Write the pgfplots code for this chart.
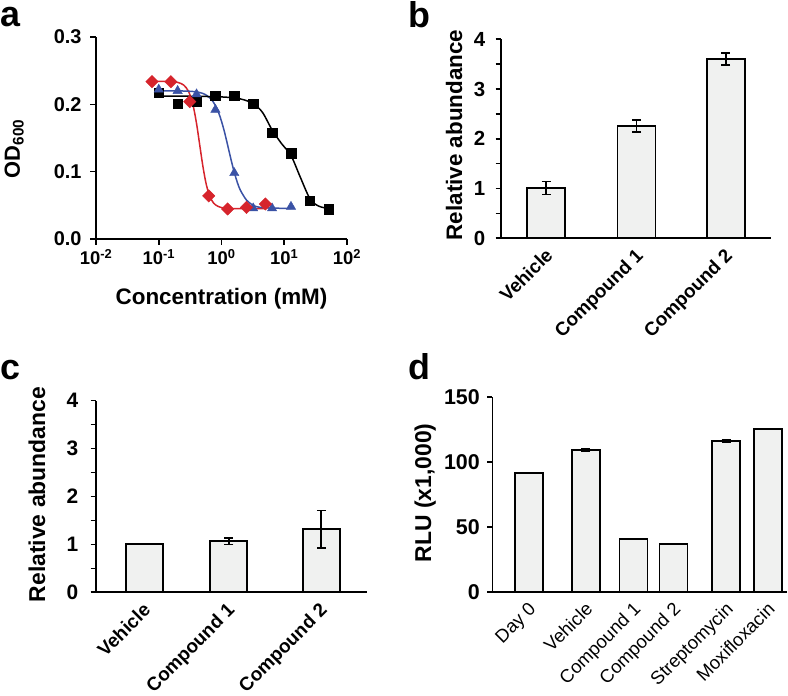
\documentclass[border=0pt]{standalone}
\usepackage{fontspec}
\setmainfont{Liberation Sans}
\usepackage{pgfplots}
\pgfplotsset{compat=1.18}
\definecolor{barfill}{RGB}{240,241,240}
\definecolor{myred}{RGB}{214,36,44}
\definecolor{myblue}{RGB}{58,82,165}
\newcommand{\fs}[1]{\fontsize{#1}{#1}\selectfont}
\pgfplotsset{
  common/.style={
    scale only axis, anchor=south west,
    axis x line*=bottom, axis y line*=left,
    tick align=outside,
    axis line style={line width=1.6bp, black},
    every tick/.style={line width=1.6bp, black},
    /pgf/number format/assume math mode=true,
    clip=false,
  },
  barplot/.style={
    ybar, bar width=#1, fill=barfill, draw=black, line width=1.8bp,
    error bars/.cd, y dir=both, y explicit,
    error bar style={line width=1.7bp, black},
    error mark options={rotate=90, mark size=4.5bp, line width=1.7bp, black},
  },
}
\begin{document}
\begin{tikzpicture}[x=1bp,y=1bp]
\path[use as bounding box] (0,0) rectangle (788,696);
\node[anchor=base west, inner sep=0pt, font=\bfseries\fs{36}] at (0,669) {a};
\node[anchor=base west, inner sep=0pt, font=\bfseries\fs{36}] at (408,668) {b};
\node[anchor=base west, inner sep=0pt, font=\bfseries\fs{36}] at (0,316) {c};
\node[anchor=base west, inner sep=0pt, font=\bfseries\fs{36}] at (408,316) {d};

% ---------------- panel a
\begin{axis}[common,
  width=251bp, height=202bp, at={(96bp,457bp)},
  xmode=log, xmin=1e-2, xmax=1e2, ymin=0, ymax=0.3,
  xminorticks=false,
  major tick length=6bp,
  xtick={0.01,0.1,1,10,100},
  xticklabels={10\textsuperscript{-2},10\textsuperscript{-1},10\textsuperscript{0},10\textsuperscript{1},10\textsuperscript{2}},
  ytick={0,0.1,0.2,0.3}, yticklabels={0.0,0.1,0.2,0.3},
  yticklabel style={font=\bfseries\fs{20}, xshift=-5bp},
  xticklabel style={font=\bfseries\fs{18.5}, yshift=-1bp},
  xlabel={Concentration (mM)}, ylabel={OD\textsubscript{600}},
  every axis x label/.style={at={(axis description cs:0.5,-0.322)}, anchor=base, font=\bfseries\fs{22.5}},
  every axis y label/.style={at={(axis description cs:-0.303,0.446)}, anchor=base, rotate=90, font=\bfseries\fs{22}},
]
\addplot[myred, line width=1.5bp, smooth] coordinates {
 (0.078,0.234) (0.1,0.234) (0.15,0.2337) (0.2,0.2326) (0.25,0.2286) (0.3,0.2187)
 (0.35,0.1998) (0.4,0.1716) (0.45,0.1395) (0.5,0.1106) (0.55,0.0886) (0.6,0.0735)
 (0.7,0.0574) (0.8,0.0508) (1.0,0.0466) (1.5,0.0452) (2,0.0451) (5,0.045)};
\addplot[myblue, line width=1.5bp, smooth] coordinates {
 (0.1,0.220) (0.2,0.2199) (0.3,0.2195) (0.4,0.2184) (0.5,0.2163) (0.6,0.2124)
 (0.7,0.2065) (0.8,0.1982) (0.9,0.1875) (1.0,0.1749) (1.1,0.1611) (1.2,0.1468)
 (1.3,0.133) (1.4,0.1202) (1.5,0.1087) (1.6,0.0987) (1.8,0.0832) (2.0,0.0724)
 (2.5,0.0578) (3.2,0.0500) (4,0.0472) (6.4,0.0458) (12.8,0.0456)};
\addplot[black, line width=1.5bp, smooth] coordinates {
 (0.1,0.212) (0.3,0.212) (1,0.211) (2,0.208) (3.2,0.201) (4.5,0.188) (6.4,0.162)
 (9,0.142) (12.8,0.124) (17.8,0.093) (25.6,0.060) (35,0.049) (51.2,0.045)};
\addplot[only marks, mark=square*, mark size=4.8bp, black] coordinates {
 (0.1,0.217) (0.2,0.201) (0.4,0.204) (0.8,0.213) (1.6,0.213) (3.2,0.201)
 (6.4,0.158) (12.8,0.127) (25.6,0.057) (51.2,0.0446)};
\addplot[only marks, mark=triangle*, mark size=5.4bp, myblue] coordinates {
 (0.1,0.222) (0.2,0.220) (0.4,0.215) (0.8,0.192) (1.6,0.098) (3.2,0.0456)
 (6.4,0.0456) (12.8,0.048)};
\addplot[only marks, mark=square*, mark size=4.4bp, mark options={rotate=45}, myred] coordinates {
 (0.078,0.2336) (0.156,0.2336) (0.3125,0.204) (0.625,0.064) (1.25,0.0446)
 (2.5,0.047) (5,0.052)};
\end{axis}

% ---------------- panel b
\begin{axis}[common,
  width=270bp, height=199bp, at={(500.7bp,457.7bp)},
  xmin=0, xmax=270, ymin=0, ymax=4,
  major tick length=5bp, minor tick length=5bp,
  ytick={0,1,2,3,4}, yticklabels={0,1,2,3,4}, minor ytick={0.5,1.5,2.5,3.5},
  xtick={45.5,135.8,225}, xticklabels={Vehicle,Compound 1,Compound 2},
  x tick style={draw=none},
  yticklabel style={font=\bfseries\fs{20.5}, xshift=-7bp},
  xticklabel style={font=\bfseries\fs{19}, rotate=45, anchor=north east, inner sep=1bp, xshift=-3bp},
  ylabel={Relative abundance},
  every axis y label/.style={at={(axis description cs:-0.143,0.519)}, anchor=base, rotate=90, font=\bfseries\fs{22.5}},
]
\addplot[barplot=38bp] coordinates {
 (45.5,1.01) +- (0,0.13)
 (135.8,2.26) +- (0,0.12)
 (225,3.61) +- (0,0.12)};
\end{axis}

% ---------------- panel c
\begin{axis}[common,
  width=271bp, height=191.6bp, at={(95.7bp,103.7bp)},
  xmin=0, xmax=271, ymin=0, ymax=4,
  major tick length=5bp, minor tick length=5bp,
  ytick={0,1,2,3,4}, yticklabels={0,1,2,3,4}, minor ytick={0.5,1.5,2.5,3.5},
  xtick={49,133.1,225.6}, xticklabels={Vehicle,Compound 1,Compound 2},
  x tick style={draw=none},
  yticklabel style={font=\bfseries\fs{21}, xshift=-9bp},
  xticklabel style={font=\bfseries\fs{19}, rotate=45, anchor=north east, inner sep=1bp, xshift=-4bp},
  ylabel={Relative abundance},
  every axis y label/.style={at={(axis description cs:-0.187,0.51)}, anchor=base, rotate=90, font=\bfseries\fs{23}},
]
\addplot[barplot=37bp] coordinates {
 (49,1.0) +- (0,0)
 (133.1,1.065) +- (0,0.07)
 (225.6,1.32) +- (0,0.39)};
\end{axis}

% ---------------- panel d
\begin{axis}[common,
  width=294.7bp, height=195bp, at={(492.3bp,103.7bp)},
  xmin=0, xmax=294.7, ymin=0, ymax=150,
  major tick length=5bp,
  ytick={0,50,100,150}, yticklabels={0,50,100,150},
  xtick={36.7,93.4,141.2,181.2,233.7,275.5},
  xticklabels={Day 0,Vehicle,Compound 1,Compound 2,Streptomycin,Moxifloxacin},
  x tick style={draw=none},
  yticklabel style={font=\bfseries\fs{21.5}, xshift=-4bp},
  xticklabel style={font=\fs{18.5}, rotate=45, anchor=north east, inner sep=1.5bp, xshift=-2bp},
  ylabel={RLU (x1,000)},
  every axis y label/.style={at={(axis description cs:-0.208,0.51)}, anchor=base, rotate=90, font=\bfseries\fs{23}},
]
\addplot[barplot=28bp] coordinates {
 (36.7,91.8) +- (0,0)
 (93.4,109.5) +- (0,0.7)
 (141.2,41.0) +- (0,0.3)
 (181.2,37.4) +- (0,0)
 (233.7,116.6) +- (0,0.8)
 (275.5,125.8) +- (0,0.3)};
\end{axis}
\end{tikzpicture}
\end{document}
